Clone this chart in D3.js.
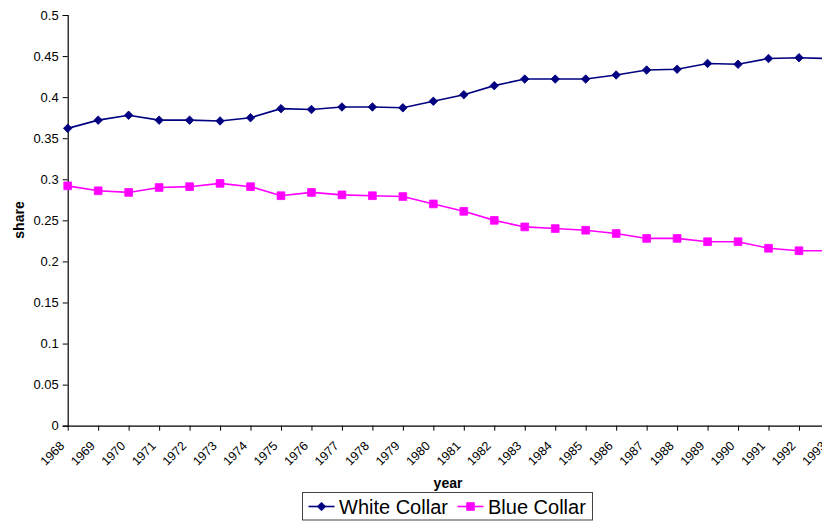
<!DOCTYPE html>
<html>
<head>
<meta charset="utf-8">
<script src="https://cdn.jsdelivr.net/npm/d3@7"></script>
<style>
  html, body { margin: 0; padding: 0; background: #fff; overflow: hidden; }
  svg { display: block; font-family: Arial, "Liberation Sans", sans-serif; }
</style>
</head>
<body>
<svg id="chart" width="822" height="521"></svg>
<script>
// Occupational shares by year
const years = [1968, 1969, 1970, 1971, 1972, 1973, 1974, 1975, 1976, 1977, 1978, 1979, 1980,
               1981, 1982, 1983, 1984, 1985, 1986, 1987, 1988, 1989, 1990, 1991, 1992, 1993];
const whiteCollar = [0.362, 0.372, 0.378, 0.372, 0.372, 0.371, 0.375, 0.386, 0.385, 0.388, 0.388, 0.387, 0.395,
                     0.403, 0.414, 0.422, 0.422, 0.422, 0.427, 0.433, 0.434, 0.441, 0.440, 0.447, 0.448, 0.447];
const blueCollar  = [0.292, 0.286, 0.284, 0.290, 0.291, 0.295, 0.291, 0.280, 0.284, 0.281, 0.280, 0.279, 0.270,
                     0.261, 0.250, 0.242, 0.240, 0.238, 0.234, 0.228, 0.228, 0.224, 0.224, 0.216, 0.213, 0.213];
const yTicks = [0, 0.05, 0.1, 0.15, 0.2, 0.25, 0.3, 0.35, 0.4, 0.45, 0.5];
const seriesNames = ["White Collar", "Blue Collar"];
const seriesColors = ["#000080", "#FF00FF"];

const svg = d3.select("#chart");

// plot frame: the category axis runs past the right edge of the page
const plotLeft = 67.7, plotTop = 15, plotBottom = 425.7, step = 30.47;
const x = d3.scalePoint().domain(years).range([plotLeft, plotLeft + step * (years.length - 1)]);
const y = d3.scaleLinear().domain([0, 0.5]).range([plotBottom, plotTop]);

// y axis
const yAxis = svg.append("g")
  .attr("transform", `translate(${plotLeft},0)`)
  .call(d3.axisLeft(y).tickValues(yTicks).tickSize(5).tickPadding(4)
        .tickFormat(d => String(+d.toFixed(2))));
yAxis.select(".domain").attr("stroke", "#000").attr("stroke-width", 1.2);
yAxis.selectAll(".tick line").attr("stroke", "#000");
yAxis.selectAll("text").attr("font-size", 13).attr("fill", "#000")
  .attr("font-family", "Arial, 'Liberation Sans', sans-serif");

// x axis
const xAxis = svg.append("g")
  .attr("transform", `translate(0,${plotBottom})`)
  .call(d3.axisBottom(x).tickSize(5).tickSizeOuter(0).tickFormat(d => String(d)));
xAxis.select(".domain").attr("stroke", "#000").attr("stroke-width", 1.2);
xAxis.selectAll(".tick line").attr("stroke", "#000");
xAxis.selectAll("text")
  .attr("font-size", 12.5).attr("fill", "#000")
  .attr("font-family", "Arial, 'Liberation Sans', sans-serif")
  .attr("text-anchor", "end")
  .attr("dy", null).attr("y", null)
  .attr("transform", "translate(-3,21) rotate(-45)");

// axis titles
svg.append("text")
  .attr("x", 448).attr("y", 488)
  .attr("text-anchor", "middle")
  .attr("font-size", 14).attr("font-weight", "bold")
  .text("year");
svg.append("text")
  .attr("transform", "translate(24,220) rotate(-90)")
  .attr("text-anchor", "middle")
  .attr("font-size", 14).attr("font-weight", "bold")
  .text("share");

// series: diamonds are squares turned 45 degrees
const line = d3.line().x((d, i) => x(years[i])).y(d => y(d));
const diamond = d3.symbol().type(d3.symbolSquare).size(36);
const square = d3.symbol().type(d3.symbolSquare).size(60);
const markerTurn = [" rotate(45)", ""];

[whiteCollar, blueCollar].forEach((vals, s) => {
  const g = svg.append("g");
  g.append("path").datum(vals)
    .attr("d", line).attr("fill", "none")
    .attr("stroke", seriesColors[s]).attr("stroke-width", 1.6);
  g.selectAll("path.mk").data(vals).join("path")
    .attr("class", "mk")
    .attr("d", s === 0 ? diamond : square)
    .attr("transform", (d, i) => `translate(${x(years[i])},${y(d)})${markerTurn[s]}`)
    .attr("fill", seriesColors[s]).attr("stroke", seriesColors[s]).attr("stroke-width", 0.8);
});

// legend
const lg = svg.append("g");
lg.append("rect")
  .attr("x", 302.5).attr("y", 492.5).attr("width", 290).attr("height", 27.5)
  .attr("fill", "#fff").attr("stroke", "#444").attr("stroke-width", 1);
const legendItems = [
  { sx: 308.5, tx: 339 },
  { sx: 457.5, tx: 488 }
];
legendItems.forEach((it, s) => {
  lg.append("line")
    .attr("x1", it.sx).attr("x2", it.sx + 26).attr("y1", 506.5).attr("y2", 506.5)
    .attr("stroke", seriesColors[s]).attr("stroke-width", 1.6);
  lg.append("path")
    .attr("d", s === 0 ? diamond : square)
    .attr("transform", `translate(${it.sx + 13},506.5)${markerTurn[s]}`)
    .attr("fill", seriesColors[s]).attr("stroke", seriesColors[s]).attr("stroke-width", 0.8);
  lg.append("text")
    .attr("x", it.tx).attr("y", 514)
    .attr("font-size", 20).attr("fill", "#000")
    .text(seriesNames[s]);
});
</script>
</body>
</html>
